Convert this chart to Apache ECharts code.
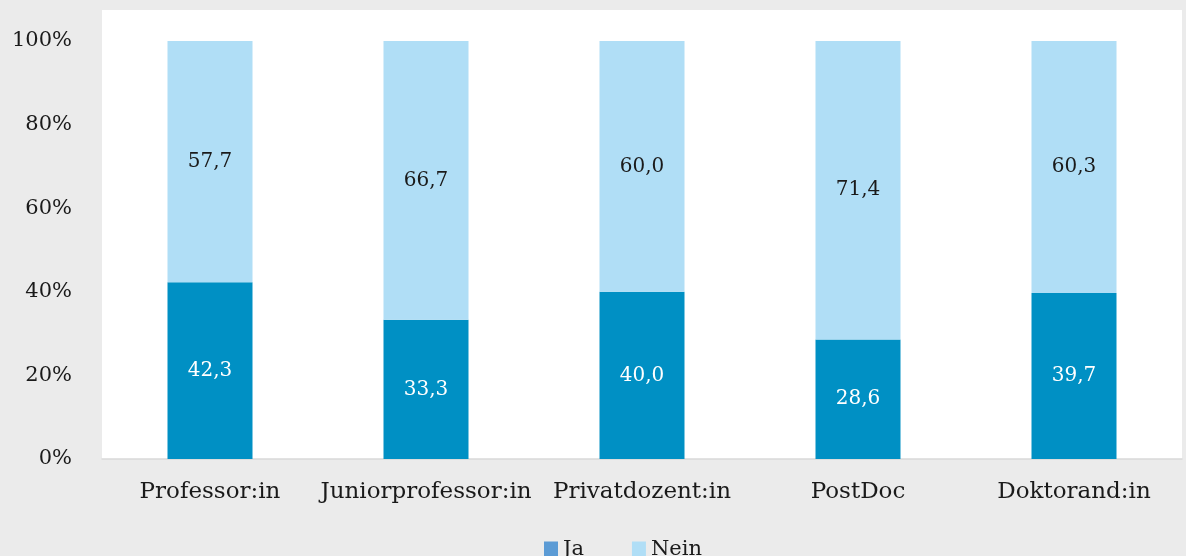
<!DOCTYPE html>
<html>
<head>
<meta charset="utf-8">
<script src="https://cdn.jsdelivr.net/npm/echarts@6/dist/echarts.min.js"></script>
<style>
    html, body { margin: 0; padding: 0; background: #ebebeb; }
    #chart { width: 1186px; height: 556px; }
</style>
</head>
<body>
<div id="chart"></div>
<script>
    // Kategorien und Anteile (%)
    const categories = ['Professor:in', 'Juniorprofessor:in', 'Privatdozent:in', 'PostDoc', 'Doktorand:in'];
    const jaValues = [42.3, 33.3, 40.0, 28.6, 39.7];
    const neinValues = [57.7, 66.7, 60.0, 71.4, 60.3];
    const yTicks = [0, 20, 40, 60, 80, 100];

    const font = 'DejaVu Serif';
    const fmt = v => v.toFixed(1).replace('.', ',');

    const chart = echarts.init(document.getElementById('chart'));

    chart.setOption({
        backgroundColor: '#ebebeb',
        textStyle: { fontFamily: font },
        animation: false,
        graphic: [{
            type: 'rect',
            z: -10,
            shape: { x: 102, y: 10, width: 1080, height: 449 },
            style: { fill: '#ffffff' }
        }],
        grid: { left: 102, right: 4, top: 41, bottom: 97 },
        legend: {
            top: 534,
            left: 539,
            itemWidth: 14,
            itemHeight: 16,
            itemGap: 48,
            icon: 'rect',
            textStyle: { fontFamily: font, fontSize: 21, color: '#1a1a1a' },
            data: [
                { name: 'Ja', itemStyle: { color: '#5b9bd5' } },
                { name: 'Nein', itemStyle: { color: '#b0def6' } }
            ]
        },
        xAxis: {
            type: 'category',
            data: categories,
            axisLine: { lineStyle: { color: '#d9d9d9', width: 1.5 } },
            axisTick: { show: false },
            axisLabel: { interval: 0, fontFamily: font, fontSize: 23, color: '#1a1a1a', margin: 22 }
        },
        yAxis: {
            type: 'value',
            min: yTicks[0],
            max: yTicks[yTicks.length - 1],
            interval: 20,
            splitLine: { show: false },
            axisLine: { show: false },
            axisLabel: {
                fontFamily: font, fontSize: 21, color: '#1a1a1a', margin: 30,
                formatter: v => v + '%'
            }
        },
        series: [
            {
                name: 'Ja',
                type: 'bar',
                stack: 'total',
                barWidth: 85,
                data: jaValues,
                itemStyle: { color: '#0090c4' },
                label: {
                    show: true, position: 'inside', color: '#ffffff',
                    fontFamily: font, fontSize: 20,
                    formatter: p => fmt(p.value)
                }
            },
            {
                name: 'Nein',
                type: 'bar',
                stack: 'total',
                barWidth: 85,
                data: neinValues,
                itemStyle: { color: '#b0def6' },
                label: {
                    show: true, position: 'inside', color: '#1a1a1a',
                    fontFamily: font, fontSize: 20,
                    formatter: p => fmt(p.value)
                }
            }
        ]
    });
</script>
</body>
</html>
